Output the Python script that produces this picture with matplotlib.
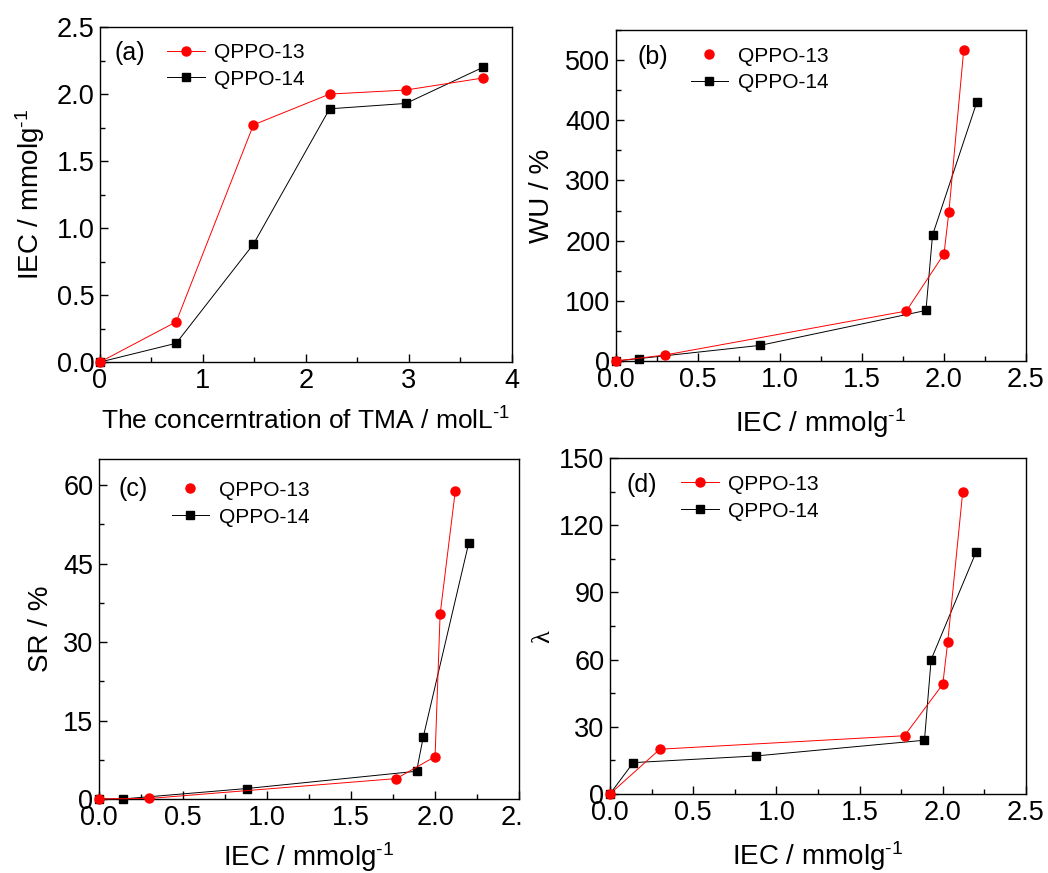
import matplotlib
matplotlib.use("Agg")
import matplotlib.pyplot as plt
from matplotlib.lines import Line2D
from matplotlib.ticker import MultipleLocator, FormatStrFormatter
from matplotlib.transforms import Bbox, TransformedBbox

plt.rcParams['font.family'] = 'Liberation Sans'
plt.rcParams['mathtext.fontset'] = 'custom'
plt.rcParams['mathtext.rm'] = 'Liberation Sans'
plt.rcParams['mathtext.default'] = 'regular'

# TMA concentration (mol/L) used for each membrane
tma = [0, 0.74, 1.49, 2.23, 2.97, 3.72]

# ion exchange capacity (mmol/g)
iec_13 = [0, 0.30, 1.77, 2.00, 2.03, 2.12]
iec_14 = [0, 0.14, 0.88, 1.89, 1.93, 2.20]

# water uptake (%)
wu_13 = [0, 10, 83, 178, 248, 516]
wu_14 = [0, 4, 26, 84, 209, 430]

# swelling ratio (%)
sr_13 = [0, 0.1, 3.9, 8.1, 35.3, 58.8]
sr_14 = [0, 0, 2.0, 5.3, 11.9, 48.9]

# hydration number
lam_13 = [0, 20, 26, 49, 68, 135]
lam_14 = [0, 14, 17, 24, 60, 108]

names = ['QPPO-13', 'QPPO-14']
RED = '#ff0000'
BLACK = '#000000'

TICK_FS = 19.5
LABEL_FS = 20
LEG_FS = 15
TAG_FS = 18

IEC_LABEL = r'IEC / mmolg$^{\text{-}1}$'


def style_axes(ax, xlim, ylim, xstep, ystep):
    ax.set_xlim(*xlim)
    ax.set_ylim(*ylim)
    ax.xaxis.set_major_locator(MultipleLocator(xstep))
    ax.xaxis.set_minor_locator(MultipleLocator(xstep / 2))
    ax.yaxis.set_major_locator(MultipleLocator(ystep))
    ax.yaxis.set_minor_locator(MultipleLocator(ystep / 2))
    ax.tick_params(which='both', direction='in', top=False, right=False,
                   labelsize=TICK_FS, width=1.0)
    ax.tick_params(which='major', length=6, pad=4)
    ax.tick_params(which='minor', length=3.5)
    for s in ax.spines.values():
        s.set_linewidth(1.0)


def draw_series(ax, x13, y13, x14, y14):
    ax.plot(x14, y14, color=BLACK, lw=0.7, marker='s', ms=5.5,
            mec=BLACK, mfc=BLACK, clip_on=False, zorder=3)
    ax.plot(x13, y13, color=RED, lw=0.7, marker='o', ms=6.5,
            mec=RED, mfc=RED, clip_on=False, zorder=4)


def add_legend(ax, anchor, red_line=True):
    h13 = Line2D([], [], color=RED, lw=0.7 if red_line else 0,
                 marker='o', ms=6.5, mfc=RED, mec=RED)
    h14 = Line2D([], [], color=BLACK, lw=0.7, marker='s', ms=5.5,
                 mfc=BLACK, mec=BLACK)
    ax.legend([h13, h14], names, loc='upper left', bbox_to_anchor=anchor,
              frameon=False, fontsize=LEG_FS, handlelength=1.8,
              handletextpad=0.45, labelspacing=0.38, borderpad=0,
              borderaxespad=0)


def add_tag(ax, xy, tag):
    ax.text(xy[0], xy[1], tag, transform=ax.transAxes, fontsize=TAG_FS,
            ha='center', va='center')


fig = plt.figure(figsize=(10.48, 8.73), dpi=100)

# (a) IEC vs TMA concentration
ax_a = fig.add_axes([0.0954, 0.5853, 0.3931, 0.3837])
draw_series(ax_a, tma, iec_13, tma, iec_14)
style_axes(ax_a, (0, 4), (0, 2.5), 1, 0.5)
ax_a.yaxis.set_major_formatter(FormatStrFormatter('%.1f'))
ax_a.set_xlabel(r'The concerntration of TMA / molL$^{\text{-}1}$',
                fontsize=19, labelpad=10)
ax_a.set_ylabel(IEC_LABEL, fontsize=LABEL_FS, labelpad=7)
add_tag(ax_a, (0.073, 0.922), '(a)')
add_legend(ax_a, (0.163, 0.953))

# (b) water uptake vs IEC
ax_b = fig.add_axes([0.5878, 0.5865, 0.3912, 0.3791])
draw_series(ax_b, iec_13, wu_13, iec_14, wu_14)
style_axes(ax_b, (0, 2.5), (0, 550), 0.5, 100)
ax_b.xaxis.set_major_formatter(FormatStrFormatter('%.1f'))
ax_b.set_xlabel(IEC_LABEL, fontsize=LABEL_FS, labelpad=10)
ax_b.set_ylabel('WU / %', fontsize=LABEL_FS, labelpad=7)
add_tag(ax_b, (0.0895, 0.918), '(b)')
add_legend(ax_b, (0.182, 0.950), red_line=False)

# (c) swelling ratio vs IEC
ax_c = fig.add_axes([0.0945, 0.0848, 0.4008, 0.3894])
draw_series(ax_c, iec_13, sr_13, iec_14, sr_14)
style_axes(ax_c, (0, 2.5), (0, 65), 0.5, 15)
ax_c.xaxis.set_major_formatter(FormatStrFormatter('%.1f'))
ax_c.set_xlabel(IEC_LABEL, fontsize=LABEL_FS, labelpad=7)
ax_c.set_ylabel('SR / %', fontsize=LABEL_FS, labelpad=7)
add_tag(ax_c, (0.082, 0.912), '(c)')
add_legend(ax_c, (0.173, 0.936), red_line=False)
# left half of the figure only: the last tick label is cut at the panel edge
left_half = TransformedBbox(Bbox.from_extents(0, 0, 0.5, 1), fig.transFigure)
for lbl in ax_c.get_xticklabels():
    lbl.set_clip_on(True)
    lbl.set_clip_box(left_half)

# (d) hydration number vs IEC
ax_d = fig.add_axes([0.582, 0.0905, 0.397, 0.3849])
draw_series(ax_d, iec_13, lam_13, iec_14, lam_14)
style_axes(ax_d, (0, 2.5), (0, 150), 0.5, 30)
ax_d.xaxis.set_major_formatter(FormatStrFormatter('%.1f'))
ax_d.set_xlabel(IEC_LABEL, fontsize=LABEL_FS, labelpad=10)
ax_d.set_ylabel('λ', fontsize=19, family='Liberation Serif')
ax_d.yaxis.set_label_coords(-0.135, 0.47)
add_tag(ax_d, (0.077, 0.92), '(d)')
add_legend(ax_d, (0.172, 0.950))

fig.savefig('out.png', dpi=100)
